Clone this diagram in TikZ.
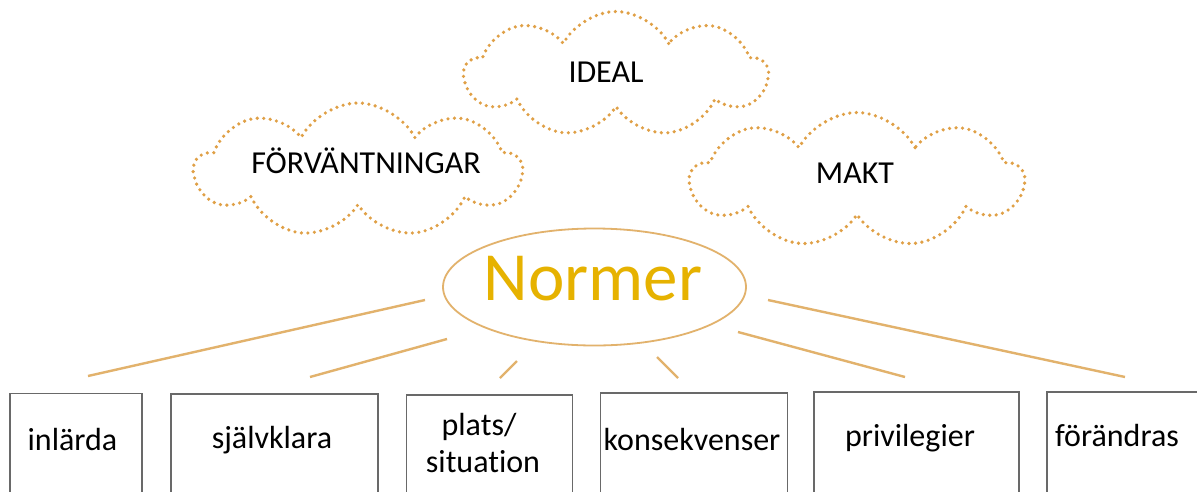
\documentclass[tikz,border=0pt]{standalone}
\usepackage{fontspec}
\setmainfont{Carlito}[Ligatures=NoCommon]
\usetikzlibrary{shapes.symbols,shapes.geometric}
\definecolor{dotc}{RGB}{224,160,70}
\definecolor{normc}{RGB}{230,178,0}
\definecolor{tanc}{RGB}{226,178,108}
\definecolor{boxc}{RGB}{105,105,105}
\begin{document}
\begin{tikzpicture}[x=1pt,y=-1pt,
  cloudshape/.style={cloud, cloud puffs=9, cloud puff arc=125, cloud ignores aspect, draw=dotc, line width=3.6pt, line cap=round, dash pattern=on 0pt off 6.5pt, inner sep=0pt},
  lbl/.style={font=\fontsize{32}{38}\selectfont, text=black, inner sep=0pt},
  boxstyle/.style={draw=boxc, line width=1.8pt, anchor=north west, inner sep=0pt, minimum height=130pt},
  ray/.style={draw=tanc, line width=2.4pt}]
\clip (0,0) rectangle (1197,491);
\fill[white] (0,0) rectangle (1197,491);
% clouds
\node[cloudshape, minimum width=327pt, minimum height=134pt] (cF) at (358,170) {};
\node[cloudshape, minimum width=303pt, minimum height=125pt] (cI) at (616,74) {};
\node[cloudshape, minimum width=333pt, minimum height=135pt] (cM) at (857,180) {};
\node[lbl, anchor=base] (tF) at (366,173.3) {FÖRVÄNTNINGAR};
\node[lbl, anchor=base] (tI) at (606,82.7) {IDEAL};
\node[lbl, anchor=base] (tM) at (855,183.3) {MAKT};
% central ellipse
\node[ellipse, draw=tanc, line width=1.8pt, minimum width=303pt, minimum height=117pt, inner sep=0pt] (norm) at (594.5,287) {};
\node[inner sep=0pt, anchor=base, text=normc, font=\fontsize{69}{80}\selectfont] (tN) at (593,300) {Normer};
% rays
\coordinate (a1) at (425,300); \coordinate (b1) at (88,376);
\coordinate (a2) at (447,339); \coordinate (b2) at (310,377);
\coordinate (a3) at (517,361); \coordinate (b3) at (500,378);
\coordinate (a4) at (657,357); \coordinate (b4) at (678,378);
\coordinate (a5) at (738,332); \coordinate (b5) at (905,377);
\coordinate (a6) at (768,300); \coordinate (b6) at (1125,377);
\draw[ray] (a1) -- (b1);
\draw[ray] (a2) -- (b2);
\draw[ray] (a3) -- (b3);
\draw[ray] (a4) -- (b4);
\draw[ray] (a5) -- (b5);
\draw[ray] (a6) -- (b6);
% boxes
\node[boxstyle, minimum width=132pt] (x1) at (9,392.5) {};
\node[boxstyle, minimum width=207pt] (x2) at (170,393) {};
\node[boxstyle, minimum width=166pt] (x3) at (405.5,394) {};
\node[boxstyle, minimum width=187pt] (x4) at (599.5,392) {};
\node[boxstyle, minimum width=205pt] (x5) at (813,391) {};
\node[boxstyle, minimum width=160pt] (x6) at (1046,391) {};
\node[lbl, anchor=base] (y1) at (72.5,450.7) {inlärda};
\node[lbl, anchor=base] (y2) at (272,448.3) {självklara};
\node[lbl, anchor=base] (y3a) at (479,435) {plats/};
\node[lbl, anchor=base] (y3b) at (483,472.3) {situation};
\node[lbl, anchor=base] (y4) at (692,450.7) {konsekvenser};
\node[lbl, anchor=base] (y5) at (910,446) {privilegier};
\node[lbl, anchor=base] (y6) at (1117,446) {förändras};
\end{tikzpicture}
\end{document}
